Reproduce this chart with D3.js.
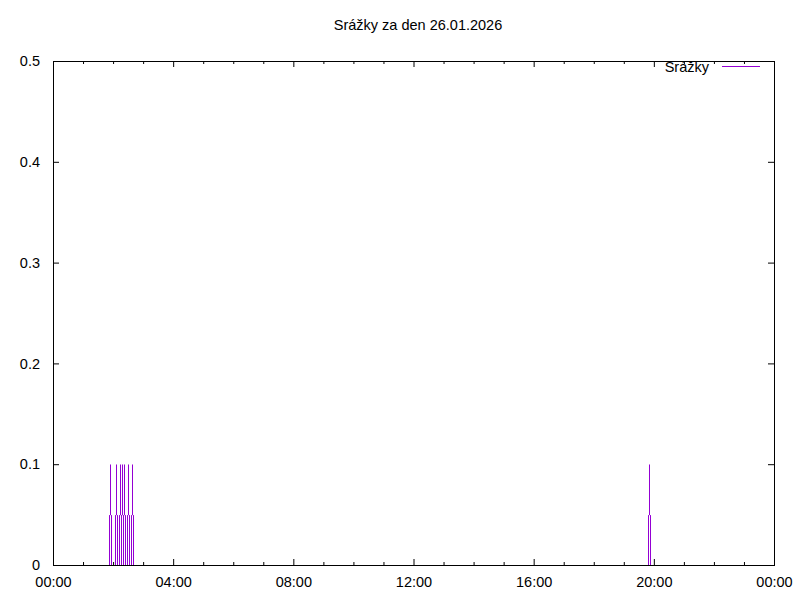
<!DOCTYPE html>
<html>
<head>
<meta charset="utf-8">
<script src="https://cdn.jsdelivr.net/npm/d3@7"></script>
<style>
  body { margin: 0; background: #fff; }
  text { font-family: "Liberation Sans", Arial, sans-serif; font-size: 14.5px; fill: #000; }
</style>
</head>
<body>
<div id="chart"></div>
<script>
// precipitation readings (time of day, mm)
const times = ["00:01", "01:53", "01:55", "01:57", "02:05", "02:07", "02:09", "02:13", "02:15",
    "02:17", "02:19", "02:21", "02:23", "02:25", "02:29", "02:31", "02:33", "02:37", "02:39",
    "02:41", "19:49", "19:51", "19:53", "23:59"];
const values = [0, 0, 0.1, 0, 0, 0.1, 0, 0, 0.1,
    0, 0.1, 0, 0.1, 0, 0, 0.1, 0, 0, 0.1,
    0, 0, 0.1, 0, 0];
const xTickLabels = ["00:00", "04:00", "08:00", "12:00", "16:00", "20:00", "00:00"];
const yTicks = [0, 0.1, 0.2, 0.3, 0.4, 0.5];
const title = "Srážky za den 26.01.2026";
const seriesName = "Srážky";

const toMin = s => { const p = s.split(":"); return +p[0] * 60 + +p[1]; };
const data = times.map((t, i) => ({ t: toMin(t), v: values[i] }));

const margin = { top: 61, right: 26, bottom: 35, left: 53 };
const width = 800 - margin.left - margin.right;
const height = 600 - margin.top - margin.bottom;
const color = "#9400d3";
const font = "Liberation Sans, Arial, sans-serif";

const svg = d3.select("#chart").append("svg")
    .attr("width", 800)
    .attr("height", 600);

const g = svg.append("g")
    .attr("transform", `translate(${margin.left}, ${margin.top})`);

const x = d3.scaleLinear().domain([0, 1440]).range([0, width]);
const y = d3.scaleLinear().domain([0, 0.5]).range([height, 0]);

const majorX = d3.range(0, 1441, 240);
const minorX = d3.range(0, 1441, 60).filter(d => d % 240 !== 0);

const styleAxis = sel => {
    sel.select(".domain").remove();
    sel.selectAll("line").attr("stroke", "#000");
};

// minor x ticks (bottom and top)
g.append("g").attr("transform", `translate(0, ${height})`)
    .call(d3.axisBottom(x).tickValues(minorX).tickSize(-3).tickFormat(""))
    .call(styleAxis);
g.append("g")
    .call(d3.axisTop(x).tickValues(minorX).tickSize(-3).tickFormat(""))
    .call(styleAxis);

// major x ticks with labels
g.append("g").attr("transform", `translate(0, ${height})`)
    .call(d3.axisBottom(x).tickValues(majorX).tickSize(-6).tickPadding(12)
        .tickFormat((d, i) => xTickLabels[i]))
    .call(styleAxis)
    .selectAll("text").style("font-size", "14.5px").style("font-family", font);
g.append("g")
    .call(d3.axisTop(x).tickValues(majorX).tickSize(-6).tickFormat(""))
    .call(styleAxis);

// y ticks
g.append("g")
    .call(d3.axisLeft(y).tickValues(yTicks).tickSize(-6).tickPadding(13)
        .tickFormat(d => d === 0 ? "0" : d3.format(".1f")(d)))
    .call(styleAxis)
    .selectAll("text").style("font-size", "14.5px").style("font-family", font);
g.append("g").attr("transform", `translate(${width}, 0)`)
    .call(d3.axisRight(y).tickValues(yTicks).tickSize(-6).tickFormat(""))
    .call(styleAxis);

// precipitation line, drawn pixel by pixel like a plain raster plotter:
// a steep segment is split half in the start column, half in the end column
const col = v => Math.floor(v) + 0.5;
let d = "";
for (let i = 1; i < data.length; i++) {
    const x0 = x(data[i - 1].t), y0 = y(data[i - 1].v);
    const x1 = x(data[i].t), y1 = y(data[i].v);
    if (Math.abs(x1 - x0) < 2) {
        const ym = (y0 + y1) / 2;
        d += `M${col(x0)},${y0}V${ym}M${col(x1)},${ym}V${y1}`;
    } else {
        d += `M${x0},${y0}L${x1},${y1}`;
    }
}
g.append("path")
    .attr("transform", "translate(0, 0.5)")
    .attr("fill", "none")
    .attr("stroke", color)
    .attr("stroke-width", 1)
    .attr("d", d);

// border
g.append("rect")
    .attr("x", 0.5).attr("y", 0.5)
    .attr("width", width).attr("height", height)
    .attr("fill", "none")
    .attr("stroke", "#000");

// title
svg.append("text")
    .attr("x", 418)
    .attr("y", 30)
    .attr("text-anchor", "middle")
    .text(title);

// legend
svg.append("text")
    .attr("x", 709)
    .attr("y", 72)
    .attr("text-anchor", "end")
    .text(seriesName);
svg.append("line")
    .attr("x1", 722).attr("x2", 760)
    .attr("y1", 66.5).attr("y2", 66.5)
    .attr("stroke", color);
</script>
</body>
</html>
